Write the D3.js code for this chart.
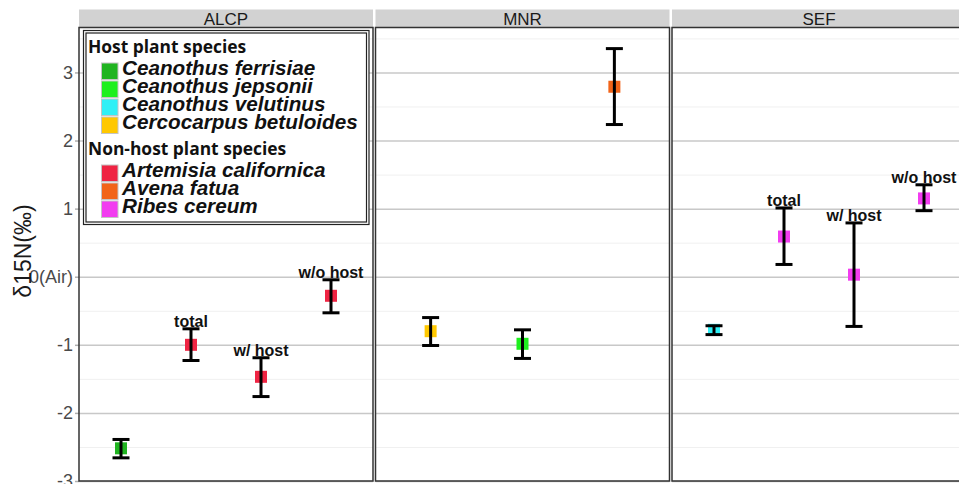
<!DOCTYPE html>
<html>
<head>
<meta charset="utf-8">
<script src="https://cdn.jsdelivr.net/npm/d3@7"></script>
<style>
  body { margin: 0; background: #fff; }
  svg { display: block; font-family: "Liberation Sans", Arial, sans-serif; }
  .grid line { stroke: #c8c8c8; stroke-width: 1.5; }
  .grid-minor line { stroke: #f0f0f0; stroke-width: 1; }
  .grid path, .grid-minor path { display: none; }
  .yaxis path { display: none; }
  .yaxis line { stroke: #b0b0b0; stroke-width: 1.5; }
  .yaxis text { font-size: 18px; fill: #4a4a4a; }
</style>
</head>
<body>
<svg width="959" height="484"></svg>
<script>
// facets
var sites = ["ALCP", "MNR", "SEF"];

// legend groups
var hostSpecies = ["Ceanothus ferrisiae", "Ceanothus jepsonii", "Ceanothus velutinus", "Cercocarpus betuloides"];
var hostColors = ["#20b420", "#1ef01e", "#30f0f6", "#ffc800"];
var nonHostSpecies = ["Artemisia californica", "Avena fatua", "Ribes cereum"];
var nonHostColors = ["#ef2443", "#f26418", "#f23cf0"];

// points (one per row)
var pointSite = ["ALCP", "ALCP", "ALCP", "ALCP", "MNR", "MNR", "MNR", "SEF", "SEF", "SEF", "SEF"];
var pointKey = ["ferrisiae", "total", "w/ host", "w/o host", "betuloides", "jepsonii", "fatua", "velutinus", "total", "w/ host", "w/o host"];
var pointSpecies = ["Ceanothus ferrisiae", "Artemisia californica", "Artemisia californica", "Artemisia californica",
  "Cercocarpus betuloides", "Ceanothus jepsonii", "Avena fatua",
  "Ceanothus velutinus", "Ribes cereum", "Ribes cereum", "Ribes cereum"];
var pointLabel = ["", "total", "w/ host", "w/o host", "", "", "", "", "total", "w/ host", "w/o host"];
var pointMean = [-2.52, -1.00, -1.47, -0.28, -0.80, -0.985, 2.79, -0.78, 0.59, 0.03, 1.15];
var pointLow = [-2.66, -1.23, -1.76, -0.53, -1.01, -1.20, 2.235, -0.85, 0.18, -0.73, 0.97];
var pointHigh = [-2.39, -0.765, -1.19, -0.045, -0.60, -0.78, 3.35, -0.72, 1.01, 0.79, 1.35];

var yTicks = [-3, -2, -1, 0, 1, 2, 3];
var yTickLabels = ["-3", "-2", "-1", "0(Air)", "1", "2", "3"];
var yMinor = [-2.5, -1.5, -0.5, 0.5, 1.5, 2.5, 3.5];

var svg = d3.select("svg");

var panelLeft = 79, panelStep = 296.5, panelW = 294;
var plotTop = 27.5, plotBottom = 481;

var y = d3.scaleLinear()
  .domain([-3, 3.66])
  .range([plotBottom, plotTop]);

var allSpecies = hostSpecies.concat(nonHostSpecies);
var color = d3.scaleOrdinal()
  .domain(allSpecies)
  .range(hostColors.concat(nonHostColors));

var points = pointSite.map(function(s, i) {
  return { site: s, key: pointKey[i], species: pointSpecies[i], label: pointLabel[i],
    mean: pointMean[i], low: pointLow[i], high: pointHigh[i] };
});

// y axis (left of first panel)
svg.append("g")
  .attr("class", "yaxis")
  .attr("transform", "translate(" + panelLeft + ",0)")
  .call(d3.axisLeft(y)
    .tickValues(yTicks)
    .tickSize(4)
    .tickPadding(2)
    .tickFormat(function(d, i) { return yTickLabels[i]; }));

svg.append("text")
  .attr("transform", "translate(31,251) rotate(-90)")
  .attr("text-anchor", "middle")
  .style("font-size", "23px")
  .style("fill", "#1a1a1a")
  .text("δ15N(‰)");

sites.forEach(function(site, si) {
  var x0 = panelLeft + si * panelStep;
  var data = points.filter(function(d) { return d.site === site; });

  var x = d3.scalePoint()
    .domain(data.map(function(d) { return d.key; }))
    .range([0, panelW])
    .padding(0.6);

  // strip
  svg.append("rect")
    .attr("x", x0).attr("y", 9.5)
    .attr("width", panelW).attr("height", plotTop - 9.5)
    .attr("fill", "#d2d2d2");
  svg.append("text")
    .attr("x", x0 + panelW / 2).attr("y", 25)
    .attr("text-anchor", "middle")
    .style("font-size", "17px")
    .style("fill", "#1a1a1a")
    .text(site);

  var g = svg.append("g").attr("transform", "translate(" + x0 + ",0)");

  g.append("g")
    .attr("class", "grid-minor")
    .call(d3.axisLeft(y).tickValues(yMinor).tickSize(-panelW).tickFormat(""));
  g.append("g")
    .attr("class", "grid")
    .call(d3.axisLeft(y).tickValues(yTicks).tickSize(-panelW).tickFormat(""));

  g.append("rect")
    .attr("x", 0).attr("y", plotTop)
    .attr("width", panelW).attr("height", plotBottom - plotTop)
    .attr("fill", "none")
    .attr("stroke", "#333")
    .attr("stroke-width", 1.5);

  // points
  g.selectAll(".pt").data(data).enter().append("rect")
    .attr("class", "pt")
    .attr("x", function(d) { return x(d.key) - 6; })
    .attr("y", function(d) { return y(d.mean) - 6; })
    .attr("width", 12).attr("height", 12)
    .attr("fill", function(d) { return color(d.species); });

  // error bars
  var eb = g.selectAll(".eb").data(data).enter().append("g")
    .attr("class", "eb")
    .attr("stroke", "#000")
    .attr("stroke-width", 3);
  eb.append("line")
    .attr("x1", function(d) { return x(d.key); })
    .attr("x2", function(d) { return x(d.key); })
    .attr("y1", function(d) { return y(d.low); })
    .attr("y2", function(d) { return y(d.high); });
  eb.append("line")
    .attr("x1", function(d) { return x(d.key) - 8.5; })
    .attr("x2", function(d) { return x(d.key) + 8.5; })
    .attr("y1", function(d) { return y(d.low); })
    .attr("y2", function(d) { return y(d.low); });
  eb.append("line")
    .attr("x1", function(d) { return x(d.key) - 8.5; })
    .attr("x2", function(d) { return x(d.key) + 8.5; })
    .attr("y1", function(d) { return y(d.high); })
    .attr("y2", function(d) { return y(d.high); });

  // labels
  g.selectAll(".lab").data(data.filter(function(d) { return d.label; })).enter().append("text")
    .attr("class", "lab")
    .attr("x", function(d) { return x(d.key); })
    .attr("y", function(d) { return y(d.high) - 2; })
    .attr("text-anchor", "middle")
    .style("font-size", "16px")
    .style("font-weight", "bold")
    .style("fill", "#111")
    .text(function(d) { return d.label; });
});

// legend
var lg = svg.append("g");
lg.append("rect")
  .attr("x", 83.5).attr("y", 30.5).attr("width", 285.5).attr("height", 194)
  .attr("fill", "#fff").attr("stroke", "#222").attr("stroke-width", 1.2);
lg.append("rect")
  .attr("x", 86).attr("y", 33).attr("width", 280.5).attr("height", 189)
  .attr("fill", "none").attr("stroke", "#222").attr("stroke-width", 1.2);

function legendGroup(title, names, titleY) {
  lg.append("text")
    .attr("x", 88).attr("y", titleY)
    .style("font-family", "'Open Sans', sans-serif")
    .style("font-size", "17.4px")
    .style("font-weight", "bold")
    .style("fill", "#111")
    .text(title);
  var rows = lg.selectAll(null).data(names).enter().append("g")
    .attr("transform", function(d, i) { return "translate(0," + (titleY + 22 + i * 18) + ")"; });
  rows.append("rect")
    .attr("x", 101.5).attr("y", -12).attr("width", 16.5).attr("height", 16.5)
    .attr("fill", function(d) { return color(d); })
    .attr("stroke", "#c4c4c4").attr("stroke-width", 1);
  rows.append("text")
    .attr("x", 122).attr("y", 0)
    .style("font-size", "20.7px")
    .style("font-weight", "bold")
    .style("font-style", "italic")
    .style("fill", "#111")
    .text(function(d) { return d; });
}
legendGroup("Host plant species", hostSpecies, 53);
legendGroup("Non-host plant species", nonHostSpecies, 155);
</script>
</body>
</html>
